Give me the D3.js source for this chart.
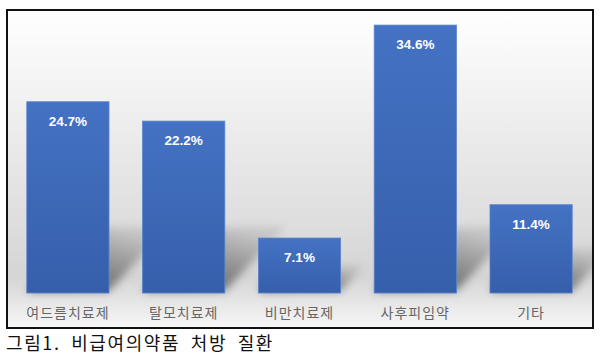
<!DOCTYPE html>
<html>
<head>
<meta charset="utf-8">
<script src="https://cdn.jsdelivr.net/npm/d3@7"></script>
<style>
  body { margin: 0; background: #fff; }
  svg { display: block; }
</style>
</head>
<body>
<div id="chart"></div>
<script>
var categories = ["여드름치료제", "탈모치료제", "비만치료제", "사후피임약", "기타"];
var shares = [24.7, 22.2, 7.1, 34.6, 11.4];
var caption = "그림1. 비급여의약품 처방 질환";

var W = 600, H = 364;
var frame = { left: 7, top: 10, right: 593, bottom: 328 };

var svg = d3.select("#chart")
    .append("svg")
    .attr("width", W)
    .attr("height", H);

var defs = svg.append("defs");

var bg = defs.append("linearGradient")
    .attr("id", "bg").attr("x1", 0).attr("y1", 0).attr("x2", 0).attr("y2", 1);
bg.append("stop").attr("offset", "0%").attr("stop-color", "#ffffff");
bg.append("stop").attr("offset", "84%").attr("stop-color", "#d5d5d5");
bg.append("stop").attr("offset", "100%").attr("stop-color", "#f7f7f7");

var barGrad = defs.append("linearGradient")
    .attr("id", "barGrad").attr("x1", 0).attr("y1", 0).attr("x2", 0).attr("y2", 1);
barGrad.append("stop").attr("offset", "0%").attr("stop-color", "#4472c4");
barGrad.append("stop").attr("offset", "100%").attr("stop-color", "#365fab");

var shadowGrad = defs.append("linearGradient")
    .attr("id", "shadowGrad").attr("x1", 0).attr("y1", 1).attr("x2", 0.6).attr("y2", 0);
shadowGrad.append("stop").attr("offset", "0%").attr("stop-color", "#000").attr("stop-opacity", 0.6);
shadowGrad.append("stop").attr("offset", "100%").attr("stop-color", "#000").attr("stop-opacity", 0.1);

defs.append("filter").attr("id", "blur")
    .attr("x", "-30%").attr("y", "-30%").attr("width", "160%").attr("height", "160%")
    .append("feGaussianBlur").attr("stdDeviation", 4);

defs.append("clipPath").attr("id", "frameClip")
    .append("rect")
    .attr("x", frame.left).attr("y", frame.top)
    .attr("width", frame.right - frame.left).attr("height", frame.bottom - frame.top);

// chart area background
svg.append("rect")
    .attr("x", frame.left).attr("y", frame.top)
    .attr("width", frame.right - frame.left).attr("height", frame.bottom - frame.top)
    .attr("fill", "url(#bg)");

var x = d3.scaleBand()
    .domain(categories)
    .range([10, 589])
    .paddingInner(0.29)
    .paddingOuter(0.145);

var y = d3.scaleLinear()
    .domain([0, 35])
    .range([293, 22]);

var data = categories.map(function (c, i) { return { name: c, value: shares[i] }; });

// perspective shadows behind the bars
svg.append("g")
    .attr("clip-path", "url(#frameClip)")
    .selectAll("path")
    .data(data)
    .enter()
    .append("path")
    .attr("d", function (d) {
        var x0 = x(d.name), x1 = x0 + x.bandwidth();
        var h = y(0) - y(d.value);
        var dx = Math.min(0.42 * h, 60), dy = Math.min(0.5 * h, 66);
        return "M" + x0 + "," + (y(0) - 2) + "L" + x1 + "," + (y(0) - 2) +
            "L" + (x1 + dx) + "," + (y(0) - dy) + "L" + (x0 + dx) + "," + (y(0) - dy) + "Z";
    })
    .attr("fill", "url(#shadowGrad)")
    .attr("filter", "url(#blur)");

svg.selectAll("rect.bar")
    .data(data)
    .enter()
    .append("rect")
    .attr("class", "bar")
    .attr("x", function (d) { return x(d.name); })
    .attr("y", function (d) { return y(d.value); })
    .attr("width", x.bandwidth())
    .attr("height", function (d) { return y(0) - y(d.value); })
    .attr("fill", "url(#barGrad)")
    .attr("stroke", "#5a82cc")
    .attr("stroke-width", 0.8);

svg.selectAll("text.val")
    .data(data)
    .enter()
    .append("text")
    .attr("class", "val")
    .attr("x", function (d) { return x(d.name) + x.bandwidth() / 2; })
    .attr("y", function (d) { return y(d.value) + 24; })
    .attr("text-anchor", "middle")
    .attr("fill", "#ffffff")
    .style("font-family", "'Liberation Sans', Arial, sans-serif")
    .style("font-weight", "bold")
    .style("font-size", "13.5px")
    .text(function (d) { return d.value.toFixed(1) + "%"; });

// category axis, no line or ticks
var xAxis = svg.append("g")
    .attr("transform", "translate(0," + y(0) + ")")
    .call(d3.axisBottom(x).tickSize(0).tickPadding(15));
xAxis.select(".domain").remove();
xAxis.selectAll("text")
    .attr("fill", "#666666")
    .style("font-family", "'Noto Sans CJK KR', sans-serif")
    .style("font-size", "14px")
    .style("letter-spacing", "1px");

// frame
svg.append("rect")
    .attr("x", frame.left).attr("y", frame.top)
    .attr("width", frame.right - frame.left).attr("height", frame.bottom - frame.top)
    .attr("fill", "none")
    .attr("stroke", "#111")
    .attr("stroke-width", 2);

svg.append("text")
    .attr("x", 6)
    .attr("y", 350)
    .attr("fill", "#111")
    .style("font-family", "'Noto Sans CJK KR', sans-serif")
    .style("font-size", "18px")
    .style("letter-spacing", "1.6px")
    .style("word-spacing", "5px")
    .text(caption);
</script>
</body>
</html>
